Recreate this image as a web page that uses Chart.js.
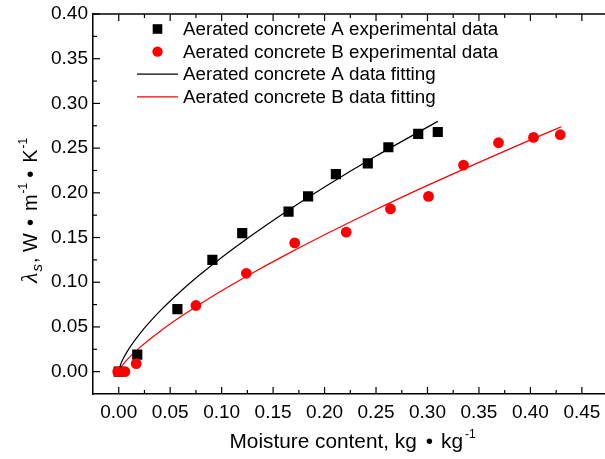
<!DOCTYPE html>
<html lang="en">
<head>
<meta charset="UTF-8">
<title>Thermal conductivity vs moisture content</title>
<script src="https://cdn.jsdelivr.net/npm/chart.js"></script>
<style>
  html, body { margin: 0; padding: 0; background: #fff; overflow: hidden; }
</style>
</head>
<body>
<canvas id="chart" width="610" height="459"></canvas>
<script>
// values
const moistureA = [0, 0.018, 0.057, 0.091, 0.120, 0.165, 0.184, 0.211, 0.242, 0.262, 0.291, 0.310];
const lambdaA   = [0, 0.019, 0.070, 0.125, 0.155, 0.179, 0.196, 0.221, 0.233, 0.251, 0.266, 0.268];
const moistureB = [-0.001, 0.006, 0.017, 0.075, 0.124, 0.171, 0.221, 0.264, 0.301, 0.335, 0.369, 0.403, 0.429];
const lambdaB   = [0, 0, 0.009, 0.074, 0.110, 0.144, 0.156, 0.182, 0.196, 0.231, 0.256, 0.262, 0.265];

// fitted curves
const fitMoistureA = [0, 0.002, 0.005, 0.01, 0.02, 0.04, 0.06, 0.08, 0.10, 0.13, 0.16, 0.20, 0.25, 0.31];
const fitLambdaA   = [0, 0.0085, 0.016, 0.0258, 0.0418, 0.0676, 0.0896, 0.1094, 0.1277, 0.1531, 0.1769, 0.2065, 0.2411, 0.2799];
const fitMoistureB = [0, 0.002, 0.005, 0.01, 0.02, 0.04, 0.06, 0.08, 0.10, 0.13, 0.16, 0.20, 0.25, 0.30, 0.35, 0.40, 0.43];
const fitLambdaB   = [0, 0.0046, 0.0093, 0.0157, 0.0266, 0.045, 0.0613, 0.0762, 0.0904, 0.1103, 0.1292, 0.1531, 0.1814, 0.2083, 0.2341, 0.2592, 0.2739];

const seriesNames = [
  'Aerated concrete A experimental data',
  'Aerated concrete B experimental data',
  'Aerated concrete A data fitting',
  'Aerated concrete B data fitting'
];

const xTicks = [0, 0.05, 0.10, 0.15, 0.20, 0.25, 0.30, 0.35, 0.40, 0.45];
const xMinor = [0.025, 0.075, 0.125, 0.175, 0.225, 0.275, 0.325, 0.375, 0.425];
const yTicks = [0, 0.05, 0.10, 0.15, 0.20, 0.25, 0.30, 0.35, 0.40];
const yMinor = [0.025, 0.075, 0.125, 0.175, 0.225, 0.275, 0.325, 0.375];

const FONT = '"Liberation Sans", Arial, sans-serif';
const toXY = (xs, ys) => xs.map((x, i) => ({ x: x, y: ys[i] }));

// draw a run of text pieces from a left start (for sub/superscripts); gap = extra space after a piece
function drawRich(ctx, parts, x0, y0) {
  let x = x0;
  ctx.textAlign = 'left';
  ctx.textBaseline = 'alphabetic';
  parts.forEach(p => {
    ctx.font = (p.italic ? 'italic ' : '') + p.size + 'px ' + (p.family || FONT);
    ctx.fillText(p.t, x, y0 + (p.dy || 0));
    x += ctx.measureText(p.t).width + (p.gap || 0);
  });
}

const decorations = {
  id: 'decorations',
  afterDraw(chart) {
    const ctx = chart.ctx;
    const area = chart.chartArea;
    const xs = chart.scales.x, ys = chart.scales.y;
    ctx.save();
    ctx.strokeStyle = '#000';
    ctx.fillStyle = '#000';
    ctx.lineWidth = 1.5;

    // top frame line
    ctx.beginPath();
    ctx.moveTo(area.left, area.top);
    ctx.lineTo(area.right, area.top);
    ctx.stroke();

    // inward ticks
    ctx.lineWidth = 1.2;
    const tick = (vals, len) => {
      vals.forEach(v => {
        const px = xs.getPixelForValue(v);
        ctx.beginPath();
        ctx.moveTo(px, area.bottom); ctx.lineTo(px, area.bottom - len);
        ctx.moveTo(px, area.top); ctx.lineTo(px, area.top + len);
        ctx.stroke();
      });
    };
    tick(xTicks, 7);
    tick(xMinor, 4);
    const ytick = (vals, len) => {
      vals.forEach(v => {
        const py = ys.getPixelForValue(v);
        ctx.beginPath();
        ctx.moveTo(area.left, py); ctx.lineTo(area.left + len, py);
        ctx.stroke();
      });
    };
    ytick(yTicks, 7);
    ytick(yMinor, 4);

    // axis titles
    drawRich(ctx, [
      { t: 'Moisture content, kg', size: 20.8, gap: 9 },
      { t: '\u2022', size: 20.8, gap: 8 },
      { t: 'kg', size: 20.8, gap: 2 },
      { t: '-1', size: 12, dy: -10 }
    ], 229.5, 448);

    ctx.save();
    ctx.translate(37, 283);
    ctx.rotate(-Math.PI / 2);
    drawRich(ctx, [
      { t: '\u03bb', size: 24, italic: true, family: '"Liberation Serif", serif', gap: 1 },
      { t: 's', size: 15, italic: true, dy: 5, gap: 1 },
      { t: ', W', size: 20, gap: 7 },
      { t: '\u2022', size: 20, gap: 8 },
      { t: 'm', size: 20, gap: 1 },
      { t: '-1', size: 12, dy: -10, gap: 5 },
      { t: '\u2022', size: 20, gap: 8 },
      { t: 'K', size: 20, gap: 1 },
      { t: '-1', size: 12, dy: -10 }
    ], 0, 0);
    ctx.restore();

    // legend
    const rowY = 29, rowGap = 22.6, markX = 157.5, textX = 183;
    chart.data.datasets.forEach((ds, i) => {
      const y = rowY + i * rowGap;
      if (ds.showLine === false) {
        ctx.fillStyle = ds.backgroundColor;
        if (ds.pointStyle === 'rect') {
          ctx.fillRect(markX - 4.8, y - 4.8, 9.6, 9.6);
        } else {
          ctx.beginPath();
          ctx.arc(markX, y, 5.2, 0, Math.PI * 2);
          ctx.fill();
        }
      } else {
        ctx.strokeStyle = ds.borderColor;
        ctx.lineWidth = 1.2;
        ctx.beginPath();
        ctx.moveTo(137, y); ctx.lineTo(178, y);
        ctx.stroke();
      }
      ctx.fillStyle = '#000';
      ctx.font = '18.8px ' + FONT;
      ctx.textAlign = 'left';
      ctx.textBaseline = 'middle';
      ctx.fillText(ds.label, textX, y + 1);
    });
    ctx.restore();
  }
};

new Chart(document.getElementById('chart'), {
  type: 'scatter',
  data: {
    datasets: [
      {
        label: seriesNames[0],
        data: toXY(moistureA, lambdaA),
        showLine: false,
        pointStyle: 'rect',
        pointRadius: 7.2,
        backgroundColor: '#000',
        borderColor: '#000',
        borderWidth: 0,
        order: 1
      },
      {
        label: seriesNames[1],
        data: toXY(moistureB, lambdaB),
        showLine: false,
        pointStyle: 'circle',
        pointRadius: 5.4,
        backgroundColor: '#ff0000',
        borderColor: '#ff0000',
        borderWidth: 0,
        order: 0
      },
      {
        label: seriesNames[2],
        data: toXY(fitMoistureA, fitLambdaA),
        showLine: true,
        pointRadius: 0,
        borderColor: '#000',
        backgroundColor: '#000',
        borderWidth: 1.2,
        cubicInterpolationMode: 'monotone',
        order: 3
      },
      {
        label: seriesNames[3],
        data: toXY(fitMoistureB, fitLambdaB),
        showLine: true,
        pointRadius: 0,
        borderColor: '#ff0000',
        backgroundColor: '#ff0000',
        borderWidth: 1.2,
        cubicInterpolationMode: 'monotone',
        order: 2
      }
    ]
  },
  options: {
    responsive: false,
    animation: false,
    layout: { autoPadding: false, padding: { top: 14, right: 2.4, left: 0, bottom: 0 } },
    plugins: { legend: { display: false }, tooltip: { enabled: false } },
    scales: {
      x: {
        type: 'linear',
        min: -0.025,
        max: 0.475,
        afterBuildTicks: s => { s.ticks = xTicks.map(v => ({ value: v })); },
        afterFit: s => { s.height = 65; s.paddingLeft = 0; s.paddingRight = 0; },
        grid: { display: false, drawTicks: false },
        border: { display: true, color: '#000', width: 1.5 },
        ticks: {
          callback: v => Number(v).toFixed(2),
          color: '#000',
          font: { family: FONT, size: 19 },
          padding: 7,
          maxRotation: 0,
          autoSkip: false
        }
      },
      y: {
        type: 'linear',
        min: -0.025,
        max: 0.40,
        afterBuildTicks: s => { s.ticks = yTicks.map(v => ({ value: v })); },
        afterFit: s => { s.width = 93; s.paddingTop = 0; s.paddingBottom = 0; },
        grid: { display: false, drawTicks: false },
        border: { display: true, color: '#000', width: 1.5 },
        ticks: {
          callback: v => Number(v).toFixed(2),
          color: '#000',
          font: { family: FONT, size: 19 },
          padding: 5,
          autoSkip: false
        }
      }
    }
  },
  plugins: [decorations]
});
</script>
</body>
</html>
